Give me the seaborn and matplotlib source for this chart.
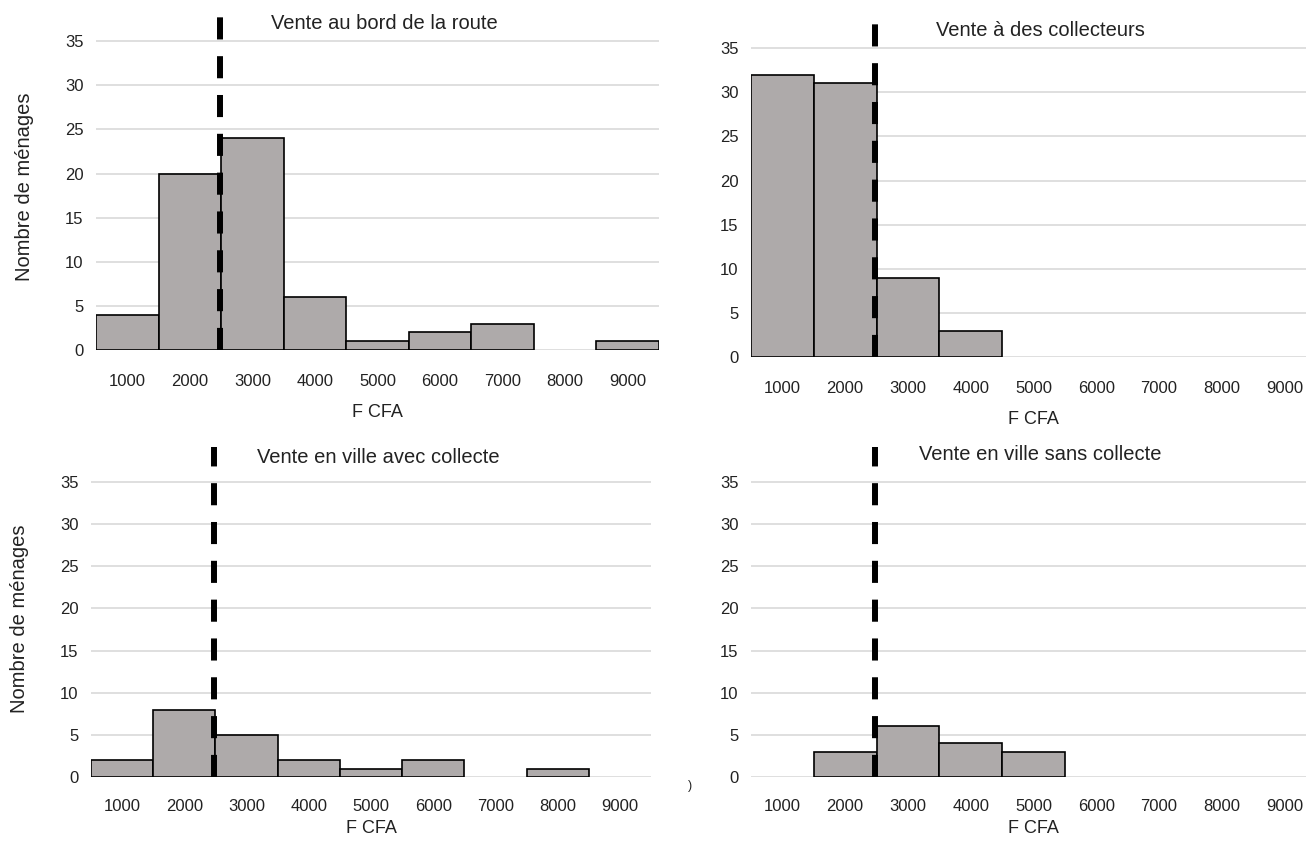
import numpy as np
import pandas as pd
import matplotlib
matplotlib.use("Agg")
import matplotlib.pyplot as plt
import seaborn as sns

# Data (households per price class, F CFA)
prix = [1000, 2000, 3000, 4000, 5000, 6000, 7000, 8000, 9000]
bord_route = [4, 20, 24, 6, 1, 2, 3, 0, 1]
collecteurs = [32, 31, 9, 3, 0, 0, 0, 0, 0]
ville_avec = [2, 8, 5, 2, 1, 2, 0, 1, 0]
ville_sans = [0, 3, 6, 4, 3, 0, 0, 0, 0]
titres = ["Vente au bord de la route", "Vente à des collecteurs",
          "Vente en ville avec collecte", "Vente en ville sans collecte"]
seuil = 2480  # dashed reference line

sns.set_theme(style="white")
plt.rcParams['font.family'] = ['Liberation Sans', 'DejaVu Sans']

fig = plt.figure(figsize=(13.06, 8.43), dpi=100)

# axes rectangles [left, bottom, width, height] in figure fraction
positions = [
    [0.0735, 0.5848, 0.431, 0.403],
    [0.575, 0.5765, 0.4326, 0.403],
    [0.0697, 0.0783, 0.4288, 0.392],
    [0.575, 0.0783, 0.4326, 0.392],
]
ytops = [38.5, 38.5, 39.2, 39.2]
title_y = [37.05, 37.0, 37.9, 38.2]
series = [bord_route, collecteurs, ville_avec, ville_sans]
txt = "#222222"

for i, (pos, vals, titre) in enumerate(zip(positions, series, titres)):
    ax = fig.add_axes(pos)
    df = pd.DataFrame({"prix": prix, "menages": vals})
    df = df[df["menages"] > 0]

    for y in range(0, 40, 5):
        ax.axhline(y, color="#d9d9d9", lw=1.2, zorder=0)

    sns.barplot(data=df, x="prix", y="menages", native_scale=True, width=1,
                color="#aeaaaa", saturation=1, edgecolor="black", linewidth=1.2,
                ax=ax, zorder=2)

    ax.axvline(seuil, ymin=0.0, ymax=1.0, color="black", lw=4.3,
               linestyle=(0, (3.7, 2.8)), zorder=3)

    ax.set_xlim(500, 9500)
    ax.set_ylim(0, ytops[i])
    ax.set_xticks(prix)
    ax.set_xticklabels([str(p) for p in prix])
    ax.set_yticks(range(0, 40, 5))
    ax.tick_params(axis="both", length=0, labelsize=12, colors=txt)
    ax.tick_params(axis="x", pad=17 if i < 2 else 16)
    ax.tick_params(axis="y", pad=9)
    for s in ax.spines.values():
        s.set_visible(False)
    ax.grid(False)

    ax.text(5110, title_y[i], titre, ha="center", va="center", fontsize=14.5, color=txt)
    ax.set_xlabel("F CFA", fontsize=13, color=txt, labelpad=11 if i < 2 else 4)
    if i % 2 == 0:
        ax.set_ylabel("Nombre de ménages", fontsize=14.5, color=txt)
        ax.yaxis.set_label_coords(-0.11, 0.48)
    else:
        ax.set_ylabel("")

fig.text(0.527, 0.064, ")", fontsize=9, color=txt)

fig.savefig("out.png", dpi=100)
